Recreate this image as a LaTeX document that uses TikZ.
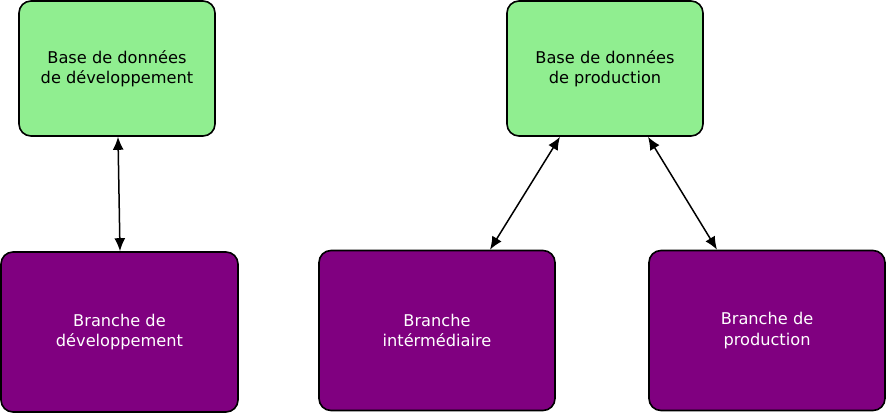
\documentclass[tikz,border=0pt]{standalone}
\usepackage{fontspec}
\setmainfont{DejaVu Sans}
\usetikzlibrary{arrows.meta}
\definecolor{dbgreen}{HTML}{90EE90}
\definecolor{brpurple}{HTML}{800080}
\begin{document}
\begin{tikzpicture}[x=1pt,y=-1pt,
  box/.style={draw=black,line width=1.6pt,rounded corners=12pt,align=center,
    font=\fontsize{16.2}{20.5}\selectfont,inner sep=0pt},
  dbbox/.style={box,fill=dbgreen,text=black,minimum width=196pt,minimum height=135pt},
  brbox/.style={box,fill=brpurple,text=white,minimum width=236pt,minimum height=160pt},
  link/.style={line width=1.5pt,{Latex[length=13pt,width=11pt]}-{Latex[length=13pt,width=11pt]}}]
\useasboundingbox (0,0) rectangle (887,414);
\node[dbbox] (g1) at (117,68.5) {Base de données\\de développement};
\node[dbbox] (g2) at (605,68.5) {Base de données\\de production};
\node[brbox,minimum width=237pt] (p1) at (119.5,332) {Branche de\\développement};
\node[brbox] (p2) at (437,330.5) {Branche\\intérmédiaire};
\node[brbox] (p3) at (767,330.5) {Branche de\\production};
\draw[link] ([xshift=1pt]g1.south) -- ([xshift=0.5pt]p1.north);
\draw[link] ([xshift=-45pt]g2.south) -- ([xshift=53pt]p2.north);
\draw[link] ([xshift=43pt]g2.south) -- ([xshift=-50pt]p3.north);
\end{tikzpicture}
\end{document}
